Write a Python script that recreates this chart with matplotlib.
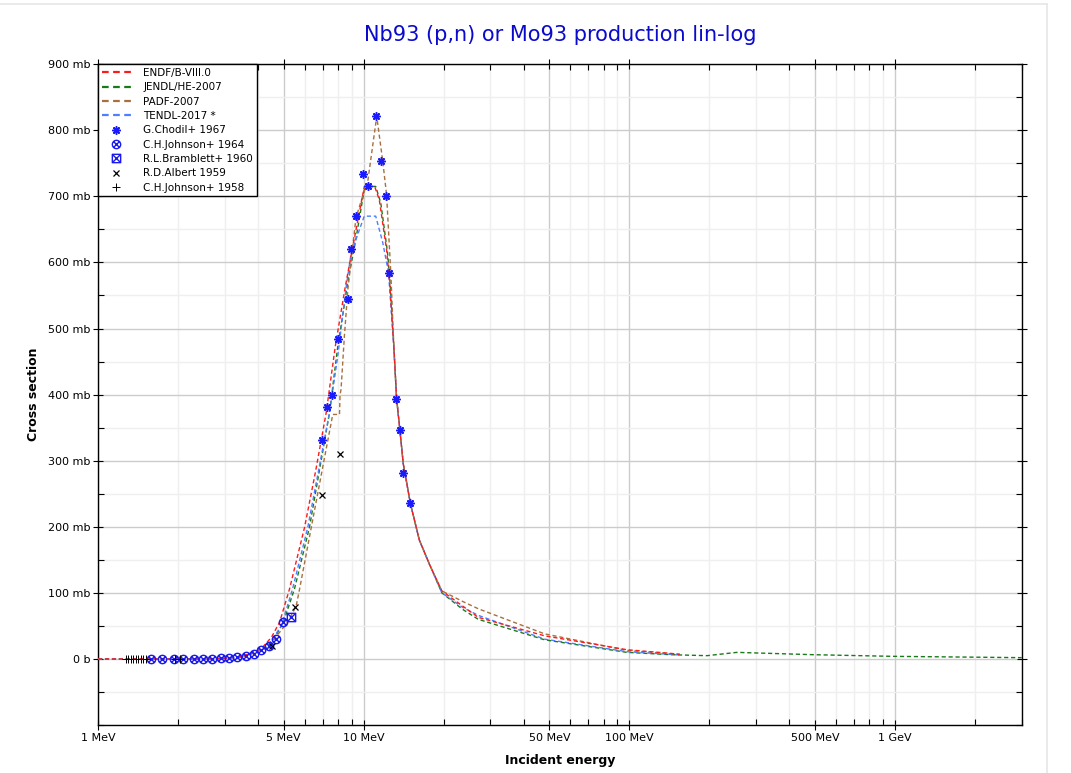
import numpy as np
import matplotlib
matplotlib.use("Agg")
from matplotlib import pyplot as plt
from matplotlib.lines import Line2D
from matplotlib.path import Path
from matplotlib.ticker import FixedLocator, NullFormatter, MultipleLocator

# evaluated libraries (energy in MeV, cross section in mb)
endf_e = [1.0, 2.5, 3.0, 3.5, 3.95, 4.17, 4.5, 4.83, 5.26, 5.99, 6.6, 7.23, 7.82, 8.5, 9.1,
          10.06, 11.0, 11.45, 12.2, 12.56, 13.0, 13.3, 13.7, 14.1, 15.0, 16.2, 17.7, 19.7,
          23.6, 27.0, 48.0, 98.0, 143.0, 155.0]
endf_xs = [0, 0, 1, 4, 12, 18, 33, 56, 106, 199, 285, 373, 473, 560, 624,
           715, 715, 695, 619, 564, 470, 395, 345, 295, 235, 180, 143, 103,
           80, 63, 35, 14, 8.5, 7]

jendl_e = [1.0, 2.5, 3.0, 3.5, 3.95, 4.3, 4.6, 4.99, 5.49, 6.25, 7.44, 7.99, 8.8, 9.3,
           10.1, 11.1, 11.6, 12.3, 12.6, 13.0, 13.3, 13.7, 14.1, 15.0, 16.2, 17.7, 19.7,
           23.6, 27.0, 48.0, 98.0, 143.0, 196.0, 254.0, 491.0, 980.0, 3000.0]
jendl_xs = [0, 0, 1, 4, 12, 16, 30, 56, 106, 199, 373, 473, 580, 630,
            715, 715, 690, 615, 564, 470, 395, 345, 295, 235, 180, 143, 100,
            75, 60, 29, 10, 6.5, 5, 10, 6.5, 4, 2]

padf_e = [1.0, 2.5, 3.0, 3.5, 3.95, 4.5, 5.18, 5.57, 5.74, 6.35, 7.65, 8.11, 8.15, 8.22,
          8.46, 8.72, 9.36, 10.0, 10.34, 11.2, 11.8, 12.2, 12.65, 13.0, 13.3, 13.7, 14.1,
          15.0, 16.2, 17.7, 19.7, 23.6, 27.0, 48.0, 98.0, 143.0, 155.0]
padf_xs = [0, 0, 1, 3, 10, 25, 56, 80, 106, 199, 370, 370, 400, 408,
           488, 559, 668, 705, 720, 821, 753, 702, 585, 470, 395, 345, 295,
           235, 180, 143, 103, 87, 76, 38, 13, 8, 7]

tendl_e = [1.0, 2.5, 3.0, 3.5, 3.95, 4.3, 4.9, 5.4, 6.16, 7.44, 8.0, 8.6, 8.97,
           10.05, 11.1, 11.8, 12.4, 13.0, 13.3, 13.7, 14.1, 15.0, 16.2, 17.7, 19.7,
           23.6, 27.0, 48.0, 98.0, 143.0, 155.0]
tendl_xs = [0, 0, 1, 4, 12, 17, 50, 106, 199, 373, 460, 564, 614,
            670, 670, 630, 585, 470, 395, 345, 295, 235, 180, 143, 100,
            78, 66, 30, 11, 7, 6]

# experimental data
chodil_e = [6.98, 7.29, 7.57, 7.99, 8.71, 8.94, 9.36, 9.94, 10.38, 11.09, 11.65, 12.09,
            12.51, 13.26, 13.72, 14.12, 14.96]
chodil_xs = [331, 382, 399, 484, 544, 621, 671, 734, 716, 821, 753, 701,
             584, 393, 346, 282, 236]

johnson64_e = [1.59, 1.74, 1.93, 2.09, 2.29, 2.48, 2.69, 2.91, 3.12, 3.35, 3.61, 3.87,
               4.10, 4.41, 4.67, 4.97]
johnson64_xs = [0, 0, 0, 0, 0, 0.2, 0.5, 1, 2, 3, 5, 7.5, 13, 20, 30, 56]

bramblett_e = [5.31]
bramblett_xs = [64]

albert_e = [4.51, 5.51, 6.96, 8.13]
albert_xs = [20, 78, 248, 310]

johnson58_e = [1.274, 1.300, 1.327, 1.357, 1.389, 1.417, 1.447, 1.479, 1.515, 1.946, 2.03]
johnson58_xs = [0, 0, 0, 0, 0, 0, 0, 0, 0.1, 0.2, 0.2]


def crossed(outline):
    # outline path with the two diagonals through it
    d = 0.7071 if outline == "circle" else 1.0
    diag = Path([(-d, -d), (d, d), (-d, d), (d, -d)],
                [Path.MOVETO, Path.LINETO, Path.MOVETO, Path.LINETO])
    if outline == "circle":
        base = Path.unit_circle()
    else:
        base = Path([(-1, -1), (1, -1), (1, 1), (-1, 1), (-1, -1)],
                    [Path.MOVETO, Path.LINETO, Path.LINETO, Path.LINETO, Path.CLOSEPOLY])
    return Path.make_compound_path(base, diag)


fig = plt.figure(figsize=(10.71, 7.73), dpi=100)
# light page border at top and right
fig.add_artist(Line2D([0.0, 0.978], [0.995, 0.995], color="#e6e6e6", lw=1.2))
fig.add_artist(Line2D([0.978, 0.978], [0.0, 0.995], color="#e6e6e6", lw=1.2))

ax = fig.add_axes([0.0915, 0.062, 0.8625, 0.855])

dash = (0, (3, 2))
ax.plot(endf_e, endf_xs, color="#ff1a1a", lw=1, linestyle=dash, label="ENDF/B-VIII.0", zorder=4)
ax.plot(jendl_e, jendl_xs, color="#1a7a1a", lw=1, linestyle=dash, label="JENDL/HE-2007", zorder=3)
ax.plot(padf_e, padf_xs, color="#a8703e", lw=1, linestyle=dash, label="PADF-2007", zorder=3)
ax.plot(tendl_e, tendl_xs, color="#4d7fff", lw=1, linestyle=dash, label="TENDL-2017 *", zorder=3)

ax.plot(chodil_e, chodil_xs, linestyle="none", marker=(8, 2, 0), ms=6, mew=1.1,
        color="#1a1aff", label="G.Chodil+ 1967", zorder=5)
ax.plot(johnson64_e, johnson64_xs, linestyle="none", marker=crossed("circle"), ms=6, mew=1,
        mfc="none", color="#1a1aee", label="C.H.Johnson+ 1964", zorder=5)
ax.plot(bramblett_e, bramblett_xs, linestyle="none", marker=crossed("square"), ms=6, mew=1,
        mfc="none", color="#1a1aee", label="R.L.Bramblett+ 1960", zorder=5)
ax.plot(albert_e, albert_xs, linestyle="none", marker="x", ms=4, mew=0.9,
        color="black", label="R.D.Albert 1959", zorder=5)
ax.plot(johnson58_e, johnson58_xs, linestyle="none", marker="+", ms=6, mew=0.7,
        color="black", label="C.H.Johnson+ 1958", zorder=5)

ax.set_xscale("log")
ax.set_xlim(1, 3000)
ax.set_ylim(-100, 900)

xt = [1, 5, 10, 50, 100, 500, 1000]
xt_labels = ["1 MeV", "5 MeV", "10 MeV", "50 MeV", "100 MeV", "500 MeV", "1 GeV"]
ax.xaxis.set_major_locator(FixedLocator(xt))
ax.set_xticklabels(xt_labels)
minor_x = [m * 10 ** k for k in range(0, 4) for m in range(2, 10) if m != 5 and m * 10 ** k <= 3000]
ax.xaxis.set_minor_locator(FixedLocator(minor_x))
ax.xaxis.set_minor_formatter(NullFormatter())

yt = list(range(0, 901, 100))
ax.yaxis.set_major_locator(FixedLocator(yt))
ax.set_yticklabels(["0 b"] + ["%d mb" % v for v in yt[1:]])
ax.yaxis.set_minor_locator(MultipleLocator(50))

ax.grid(which="major", color="#cccccc", lw=1)
ax.grid(which="minor", color="#efefef", lw=1)
ax.set_axisbelow(True)
ax.tick_params(which="major", direction="inout", length=7, labelsize=8, pad=2,
               top=True, right=True, width=0.8)
ax.tick_params(which="minor", direction="in", length=4, top=True, right=True, width=0.8)
for s in ax.spines.values():
    s.set_linewidth(1)

ax.set_xlabel("Incident energy", fontsize=9, fontweight="bold", labelpad=8)
ax.set_ylabel("Cross section", fontsize=9, fontweight="bold", labelpad=6)
ax.set_title("Nb93 (p,n) or Mo93 production lin-log", color="#0a0acc", fontsize=15, pad=17)

leg = ax.legend(loc="upper left", fontsize=7.5, frameon=True, fancybox=False,
                edgecolor="black", borderaxespad=0, handlelength=2.8, labelspacing=0.42,
                borderpad=0.35, handletextpad=1.2, framealpha=1)
leg.get_frame().set_linewidth(1)
leg.set_zorder(10)
for h in leg.get_lines()[:4]:
    h.set_linewidth(1.6)

fig.savefig("out.png", dpi=100)
